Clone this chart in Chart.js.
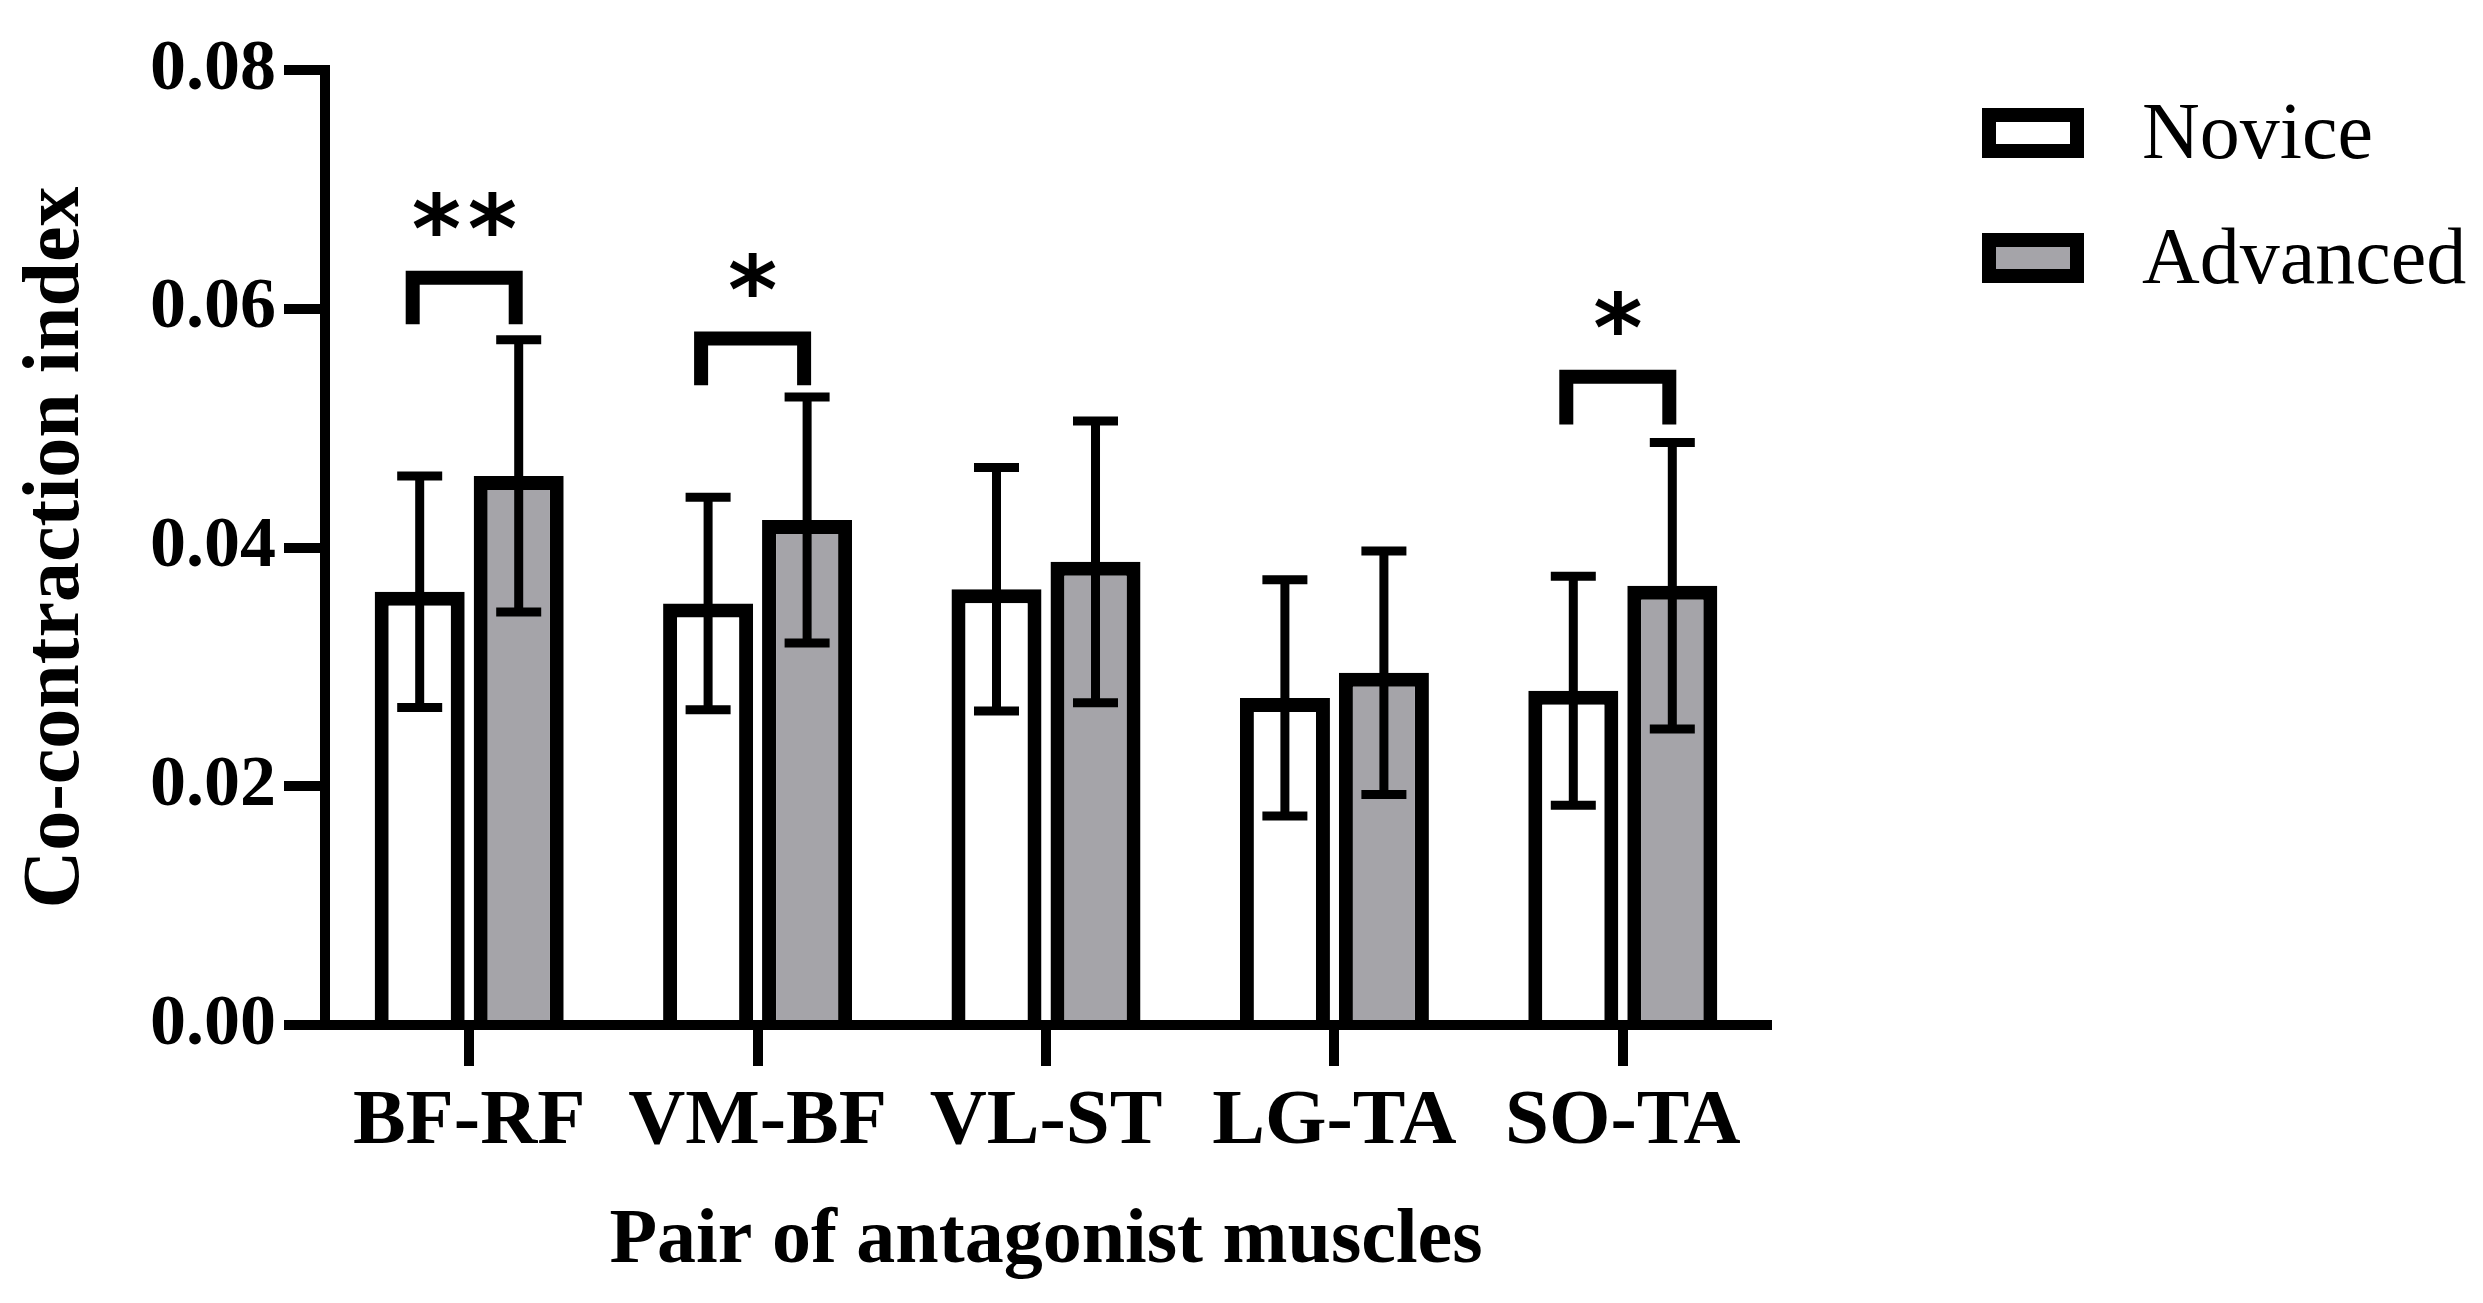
<!DOCTYPE html>
<html>
<head>
<meta charset="utf-8">
<script src="https://cdn.jsdelivr.net/npm/chart.js@4.4.1/dist/chart.umd.min.js"></script>
<style>
  html, body { margin: 0; padding: 0; background: #fff; }
  #wrap { width: 2483px; height: 1303px; }
</style>
</head>
<body>
<div id="wrap"><canvas id="chart"></canvas></div>
<script>
const categories = ["BF-RF", "VM-BF", "VL-ST", "LG-TA", "SO-TA"];
const novice = [0.0363, 0.0353, 0.0365, 0.0274, 0.0280];
const noviceSd = [0.0097, 0.0089, 0.0102, 0.0099, 0.0096];
const advanced = [0.0460, 0.0423, 0.0388, 0.0295, 0.0368];
const advancedSd = [0.0114, 0.0103, 0.0118, 0.0102, 0.0120];
const yTicks = [0, 0.02, 0.04, 0.06, 0.08];

// significance brackets: category, bracket height, end of legs, stars
const sigGroups = [0, 1, 4];
const sigTop = [0.0626, 0.0575, 0.0543];
const sigLegEnd = [0.0587, 0.0536, 0.0503];
const sigStars = ["**", "*", "*"];

const GREY = "#a5a4a9";
const SERIF = "'Liberation Serif', 'Times New Roman', serif";

const errorBars = {
  id: "errorBars",
  afterDatasetsDraw(chart) {
    const ctx = chart.ctx, y = chart.scales.y;
    const sds = [noviceSd, advancedSd];
    ctx.save();
    ctx.strokeStyle = "#000";
    ctx.lineWidth = 9;
    ctx.lineCap = "butt";
    chart.data.datasets.forEach((ds, i) => {
      chart.getDatasetMeta(i).data.forEach((bar, j) => {
        const v = ds.data[j], sd = sds[i][j];
        const top = y.getPixelForValue(v + sd), bot = y.getPixelForValue(v - sd);
        ctx.beginPath();
        ctx.moveTo(bar.x, top); ctx.lineTo(bar.x, bot);
        ctx.moveTo(bar.x - 22.5, top); ctx.lineTo(bar.x + 22.5, top);
        ctx.moveTo(bar.x - 22.5, bot); ctx.lineTo(bar.x + 22.5, bot);
        ctx.stroke();
      });
    });
    ctx.restore();
  }
};

function drawStars(ctx, text, cx, cy) {
  ctx.font = "bold 120px 'DejaVu Sans'";
  let m = ctx.measureText("*");
  const h = m.actualBoundingBoxAscent + m.actualBoundingBoxDescent;
  const size = 120 * 44 / h;
  ctx.font = "bold " + size + "px 'DejaVu Sans'";
  m = ctx.measureText("*");
  ctx.textAlign = "left";
  ctx.textBaseline = "alphabetic";
  ctx.fillStyle = "#000";
  for (let i = 0; i < text.length; i++) {
    const xc = cx + (i - (text.length - 1) / 2) * 56;
    const x = xc - (m.actualBoundingBoxRight - m.actualBoundingBoxLeft) / 2;
    const yb = cy + (m.actualBoundingBoxAscent - m.actualBoundingBoxDescent) / 2;
    ctx.fillText(text[i], x, yb);
  }
}

const brackets = {
  id: "brackets",
  afterDatasetsDraw(chart) {
    const ctx = chart.ctx, y = chart.scales.y;
    const a = chart.getDatasetMeta(0).data, b = chart.getDatasetMeta(1).data;
    ctx.save();
    ctx.strokeStyle = "#000";
    ctx.lineWidth = 14;
    ctx.lineJoin = "miter";
    ctx.lineCap = "butt";
    sigGroups.forEach((g, k) => {
      const x1 = a[g].x - 7, x2 = b[g].x - 3;
      const yt = y.getPixelForValue(sigTop[k]);
      const yl = y.getPixelForValue(sigLegEnd[k]);
      ctx.beginPath();
      ctx.moveTo(x1, yl); ctx.lineTo(x1, yt); ctx.lineTo(x2, yt); ctx.lineTo(x2, yl);
      ctx.stroke();
      drawStars(ctx, sigStars[k], (x1 + x2) / 2, yt - 64);
    });
    ctx.restore();
  }
};

const legendBoxes = {
  id: "legendBoxes",
  afterDraw(chart) {
    const ctx = chart.ctx;
    ctx.save();
    chart.data.datasets.forEach((ds, i) => {
      const top = 108 + i * 125;
      ctx.fillStyle = ds.borderColor;
      ctx.fillRect(1982, top, 102, 50);
      ctx.fillStyle = ds.backgroundColor;
      ctx.fillRect(1996, top + 14, 74, 22);
      ctx.fillStyle = "#000";
      ctx.font = "80px " + SERIF;
      ctx.textAlign = "left";
      ctx.textBaseline = "alphabetic";
      ctx.fillText(ds.label, 2142, top + 50);
    });
    ctx.restore();
  }
};

const axisGrid = {
  drawOnChartArea: false,
  drawTicks: true,
  tickLength: 41,
  tickWidth: 10,
  tickColor: "#000",
  lineWidth: 10,
  color: "#000"
};

new Chart(document.getElementById("chart"), {
  type: "bar",
  data: {
    labels: categories,
    datasets: [
      { label: "Novice", data: novice, backgroundColor: "#ffffff", borderColor: "#000000", borderWidth: 14 },
      { label: "Advanced", data: advanced, backgroundColor: GREY, borderColor: "#000000", borderWidth: 14 }
    ]
  },
  options: {
    responsive: true,
    maintainAspectRatio: false,
    animation: false,
    categoryPercentage: 0.6866,
    barPercentage: 0.909,
    layout: { padding: { top: 70, right: 716, bottom: 0, left: 0 } },
    plugins: {
      legend: { display: false },
      tooltip: { enabled: false }
    },
    scales: {
      x: {
        offset: true,
        z: 1,
        grid: Object.assign({ offset: false }, axisGrid),
        border: { display: true, color: "#000", width: 10 },
        ticks: {
          color: "#000",
          font: { family: SERIF, size: 79, weight: "bold" },
          padding: 9,
          maxRotation: 0,
          autoSkip: false
        },
        title: {
          display: true,
          text: "Pair of antagonist muscles",
          color: "#000",
          font: { family: SERIF, size: 78, weight: "bold" },
          padding: { top: 0, bottom: 14 }
        },
        afterFit: s => { s.height = 278; }
      },
      y: {
        min: 0,
        max: 0.08,
        z: 1,
        afterBuildTicks: s => { s.ticks = yTicks.map(v => ({ value: v })); },
        grid: axisGrid,
        border: { display: true, color: "#000", width: 10 },
        ticks: {
          color: "#000",
          font: { family: SERIF, size: 72, weight: "bold" },
          padding: 8,
          callback: v => v.toFixed(2)
        },
        title: {
          display: true,
          text: "Co-contraction index",
          color: "#000",
          font: { family: SERIF, size: 80, weight: "bold" },
          padding: { top: 9, bottom: 0 }
        },
        afterFit: s => { s.width = 325; }
      }
    }
  },
  plugins: [errorBars, brackets, legendBoxes]
});
</script>
</body>
</html>
